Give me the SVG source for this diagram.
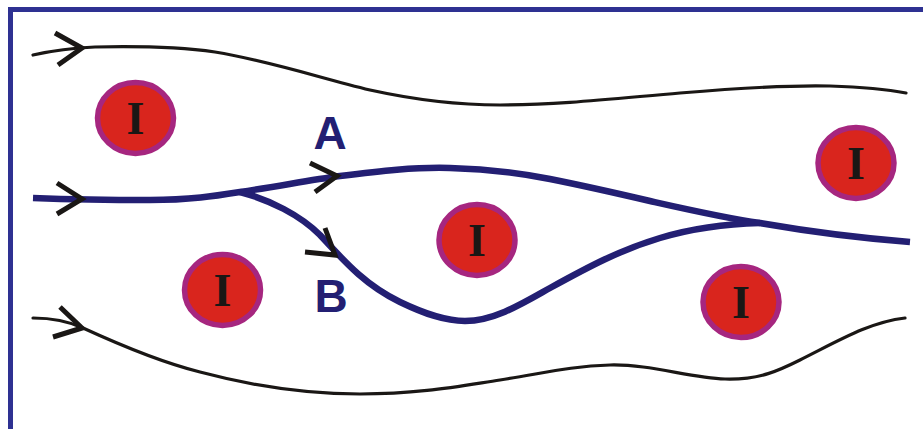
<svg xmlns="http://www.w3.org/2000/svg" width="923" height="429" viewBox="0 0 923 429">
<style>
.frame{stroke:#2e3192;stroke-width:5;fill:none}
.thin{stroke:#1a1715;stroke-width:3.2;fill:none;stroke-linecap:round}
.thick{stroke:#231f73;stroke-width:6.5;fill:none;stroke-linecap:butt}
.arrow{stroke:#1a1715;stroke-width:5;fill:none;stroke-linejoin:miter}
.ion ellipse{fill:#d9251d;stroke:#a6267f;stroke-width:5.5}
.ion text{font-family:"Liberation Serif","Times New Roman",serif;font-weight:bold;font-size:46px;fill:#1a1715;text-anchor:middle}
.lbl{font-family:"Liberation Sans",Arial,sans-serif;font-weight:bold;font-size:46px;fill:#231f73;text-anchor:middle}
</style>
<rect width="923" height="429" fill="#ffffff"/>
<path class="frame" d="M10.5,429 V9.5 H923"/>

<g id="connectors">
  <path class="thin" d="M33,55 C55,50 70,48 95,47 C140,46 180,47 215,52 C270,61 320,78 370,90 C420,101 460,105 500,105 C560,105 620,98 680,93 C740,88 790,85 830,86 C860,87 885,89 906,93"/>
  <path class="thick" d="M33,198 C60,199 100,200 150,200 C190,200 215,196 240,192 C280,186 310,180 340,176 C380,171 415,167 450,168 C490,169 520,173 550,179 C585,186 620,194 650,201 C690,210 725,218 760,223 C800,230 860,238 910,242"/>
  <path class="thick" d="M240,192 C270,200 300,215 320,235 C345,262 365,285 400,302 C425,314 445,321 465,321 C495,321 525,302 550,288 C590,266 620,250 660,238 C690,229 720,224 760,223"/>
  <path class="thin" d="M33,318 C55,318 70,322 83,328 C120,345 160,362 200,372 C260,388 310,394 360,394 C420,394 460,386 500,380 C540,374 570,366 610,365 C650,364 690,378 725,379 C760,380 780,370 800,360 C840,340 870,322 905,318"/>
  <path class="arrow" d="M55,33 L82,48 L58,65"/>
  <path class="arrow" d="M57,183 L82,199 L57,214"/>
  <path class="arrow" d="M310,163 L337,176 L315,192"/>
  <path class="arrow" d="M325,228 L335,255 L305,252"/>
  <path class="arrow" d="M60,307 L82,328 L53,337"/>
</g>

<text class="lbl" x="330" y="149">A</text>
<text class="lbl" x="331" y="312">B</text>

<g id="ion1" class="ion"><ellipse cx="135.5" cy="118" rx="38" ry="35.5"/><text x="135.5" y="134">I</text></g>
<g id="ion2" class="ion"><ellipse cx="222.5" cy="290" rx="38" ry="35.5"/><text x="222.5" y="306">I</text></g>
<g id="ion3" class="ion"><ellipse cx="477" cy="240" rx="38" ry="35.5"/><text x="477" y="256">I</text></g>
<g id="ion4" class="ion"><ellipse cx="741" cy="302" rx="38" ry="35.5"/><text x="741" y="318">I</text></g>
<g id="ion5" class="ion"><ellipse cx="856" cy="163" rx="38" ry="35.5"/><text x="856" y="179">I</text></g>
</svg>
